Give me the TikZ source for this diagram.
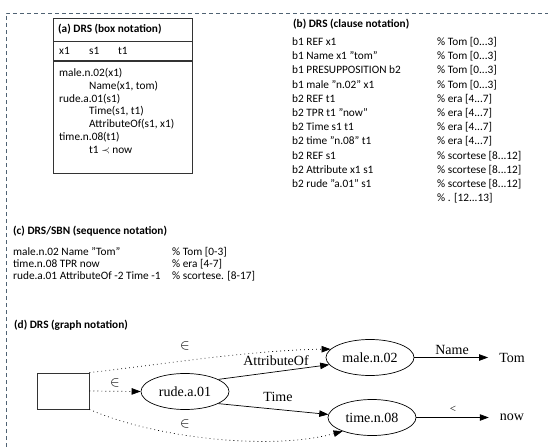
\documentclass[tikz,border=0pt]{standalone}
\usepackage{fontspec}
\setmainfont{Carlito}
\newfontfamily\timesf{Liberation Serif}
\usetikzlibrary{arrows.meta,shapes.geometric}
\definecolor{bordcol}{HTML}{4F6273}
\definecolor{boxcol}{HTML}{333333}
\begin{document}
\begin{tikzpicture}[x=1pt,y=-1pt,
  txt/.style={anchor=west,inner sep=0pt,font=\fontsize{11.3}{13}\selectfont,text height=7pt,text depth=2pt},
  ttl/.style={txt,font=\fontsize{11.3}{13}\selectfont\bfseries},
  gnode/.style={ellipse,draw,line width=0.7pt,minimum width=88pt,minimum height=36pt,inner sep=0pt,font=\timesf\fontsize{14}{16}\selectfont},
  glabel/.style={font=\timesf\fontsize{14}{16}\selectfont,inner sep=1pt},
  garrow/.style={-{Triangle[length=9pt,width=6.5pt]},line width=0.7pt},
  dotarrow/.style={garrow,dash pattern=on 0.8pt off 3.2pt},
  dashbord/.style={draw=bordcol,line width=1pt,dash pattern=on 4pt off 3pt},
]
\useasboundingbox (0,0) rectangle (548,447);
\draw[dashbord] (6,447) -- (6,13) -- (548,13);

% (a) box notation
\draw[boxcol,line width=0.9pt] (53,18) rectangle (192,173);
\draw[boxcol,line width=0.9pt] (53,41) -- (192,41);
\draw[boxcol,line width=1.4pt] (53,61) -- (192,61);
\node[ttl] (ta) at (58,30) {(a) DRS (box notation)};
\node[txt] (ax) at (59,52) {x1};
\node[txt] (as) at (89,52) {s1};
\node[txt] (at) at (118,52) {t1};
\node[txt] (a1) at (59,74) {male.n.02(x1)};
\node[txt] (a2) at (89,86.8) {Name(x1, tom)};
\node[txt] (a3) at (59,99.6) {rude.a.01(s1)};
\node[txt] (a4) at (89,112.4) {Time(s1, t1)};
\node[txt] (a5) at (89,125.2) {AttributeOf(s1, x1)};
\node[txt] (a6) at (59,138) {time.n.08(t1)};
\node[txt] (a7) at (89,150.8) {t1 $\prec$ now};

% (b) clause notation
\node[ttl] (tb) at (293,25) {(b) DRS (clause notation)};
\node[txt] (bl0) at (292,43) {b1 REF x1};
\node[txt] (bl1) at (292,57.2) {b1 Name x1 "tom"};
\node[txt] (bl2) at (292,71.4) {b1 PRESUPPOSITION b2};
\node[txt] (bl3) at (292,85.6) {b1 male "n.02" x1};
\node[txt] (bl4) at (292,99.8) {b2 REF t1};
\node[txt] (bl5) at (292,114) {b2 TPR t1 "now"};
\node[txt] (bl6) at (292,128.2) {b2 Time s1 t1};
\node[txt] (bl7) at (292,142.4) {b2 time "n.08" t1};
\node[txt] (bl8) at (292,156.6) {b2 REF s1};
\node[txt] (bl9) at (292,170.8) {b2 Attribute x1 s1};
\node[txt] (bl10) at (292,185) {b2 rude "a.01" s1};
\node[txt] (br0) at (437,43) {\% Tom [0...3]};
\node[txt] (br1) at (437,57.2) {\% Tom [0...3]};
\node[txt] (br2) at (437,71.4) {\% Tom [0...3]};
\node[txt] (br3) at (437,85.6) {\% Tom [0...3]};
\node[txt] (br4) at (437,99.8) {\% era [4...7]};
\node[txt] (br5) at (437,114) {\% era [4...7]};
\node[txt] (br6) at (437,128.2) {\% era [4...7]};
\node[txt] (br7) at (437,142.4) {\% era [4...7]};
\node[txt] (br8) at (437,156.6) {\% scortese [8...12]};
\node[txt] (br9) at (437,170.8) {\% scortese [8...12]};
\node[txt] (br10) at (437,185) {\% scortese [8...12]};
\node[txt] (br11) at (437,199.2) {\% . [12...13]};

% (c) sequence notation
\node[ttl] (tc) at (13,232) {(c) DRS/SBN (sequence notation)};
\node[txt] (c1) at (13,253) {male.n.02 Name "Tom"};
\node[txt] (c2) at (13,265) {time.n.08 TPR now};
\node[txt] (c3) at (13,277) {rude.a.01 AttributeOf -2 Time -1};
\node[txt] (c1r) at (172,253) {\% Tom [0-3]};
\node[txt] (c2r) at (172,265) {\% era [4-7]};
\node[txt] (c3r) at (172,277) {\% scortese. [8-17]};

% (d) graph notation
\node[ttl] (td) at (14,326) {(d) DRS (graph notation)};
\node[draw=boxcol,line width=0.9pt,minimum width=52pt,minimum height=36pt,inner sep=0pt] (root) at (63,391) {};
\node[gnode] (rude) at (185,391.5) {rude.a.01};
\node[gnode] (male) at (370,357.5) {male.n.02};
\node[gnode] (time) at (372,417.5) {time.n.08};
\node[glabel] (tom) at (512,357.5) {Tom};
\node[glabel] (now) at (512,417.5) {now};

\draw[dotarrow] (root.east) -- (rude.west);
\draw[dotarrow] (root.north east) .. controls (150,366) and (250,350) .. (male.168);
\draw[dotarrow] (root.south east) .. controls (160,440) and (275,450) .. (time.205);
\draw[garrow] (rude.20) -- (male.190);
\draw[garrow] (rude.-20) -- (time.176);
\draw[garrow,shorten >=10pt] (male.east) -- (tom.west);
\draw[garrow,shorten >=10pt] (time.east) -- (now.west);

\node[glabel] (e1) at (115,383) {$\in$};
\node[glabel] (e2) at (185,346) {$\in$};
\node[glabel] (e3) at (185,424) {$\in$};
\node[glabel] (lab1) at (276,361) {AttributeOf};
\node[glabel] (lab2) at (278,397) {Time};
\node[glabel] (lab3) at (452,350) {Name};
\node[glabel,font=\timesf\fontsize{11}{13}\selectfont] (lab4) at (453,409) {<};
\end{tikzpicture}
\end{document}
